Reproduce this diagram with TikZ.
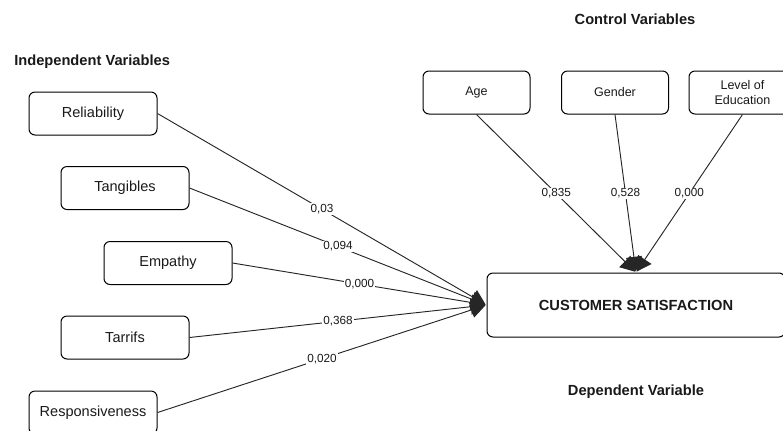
\documentclass[tikz,border=0pt]{standalone}
\usepackage{fontspec}
\setmainfont{Liberation Sans}
\usetikzlibrary{arrows.meta}
\begin{document}
\begin{tikzpicture}[x=0.75pt,y=-0.75pt,
  leftbox/.style={draw=black, line width=0.75pt, rounded corners=4.5pt, minimum width=96pt, minimum height=32.25pt, inner sep=0pt, align=center, font=\fontsize{10.9pt}{13pt}\selectfont, text=black!90},
  topbox/.style={draw=black, line width=0.75pt, rounded corners=4.5pt, minimum width=80.25pt, minimum height=32.25pt, inner sep=0pt, align=center, font=\fontsize{9.4pt}{11.25pt}\selectfont, text=black!90},
  mainbox/.style={draw=black, line width=0.75pt, rounded corners=4.5pt, minimum width=223.5pt, minimum height=48pt, inner sep=0pt, align=center, font=\fontsize{11pt}{13pt}\selectfont\bfseries, text=black!90},
  title/.style={font=\fontsize{11pt}{13pt}\selectfont\bfseries, text=black!90, inner sep=0pt},
  lbl/.style={fill=white, inner sep=0.8pt, font=\fontsize{8.8pt}{10pt}\selectfont, text=black!90},
  arr/.style={draw=black!85, line width=0.7pt, -{Triangle[length=11pt,width=12pt]}, shorten >=0.8pt}
]
\useasboundingbox (0,0) rectangle (783,430);
\clip (0,0) rectangle (783,430);

\node[title, anchor=west] (tind) at (14,62) {Independent Variables};
\node[title] (tctl) at (635,19) {Control Variables};
\node[title] (tdep) at (636,392) {Dependent Variable};

\node[leftbox] (rel) at (93,113.5) {Reliability};
\node[leftbox] (tan) at (125,188) {Tangibles};
\node[leftbox] (emp) at (168,263) {Empathy};
\node[leftbox] (tar) at (125,337.5) {Tarrifs};
\node[leftbox] (res) at (93,412.5) {Responsiveness};

\node[topbox] (age) at (476.5,92.5) {Age};
\node[topbox] (gen) at (615,92.5) {Gender};
\node[topbox] (edu) at (742.5,92.5) {Level of\\Education};

\node[mainbox] (cs) at (636,305) {CUSTOMER SATISFACTION};

\draw[arr] (rel.east) -- node[lbl] {0,03} (cs.west);
\draw[arr] (tan.east) -- node[lbl] {0,094} (cs.west);
\draw[arr] (emp.east) -- node[lbl] {0,000} (cs.west);
\draw[arr] (tar.east) -- node[lbl] {0,368} (cs.west);
\draw[arr] (res.east) -- node[lbl] {0,020} (cs.west);

\draw[arr] (age.south) -- node[lbl] {0,835} (cs.north);
\draw[arr] (gen.south) -- node[lbl] {0,528} (cs.north);
\draw[arr] (edu.south) -- node[lbl] {0,000} (cs.north);
\end{tikzpicture}
\end{document}
